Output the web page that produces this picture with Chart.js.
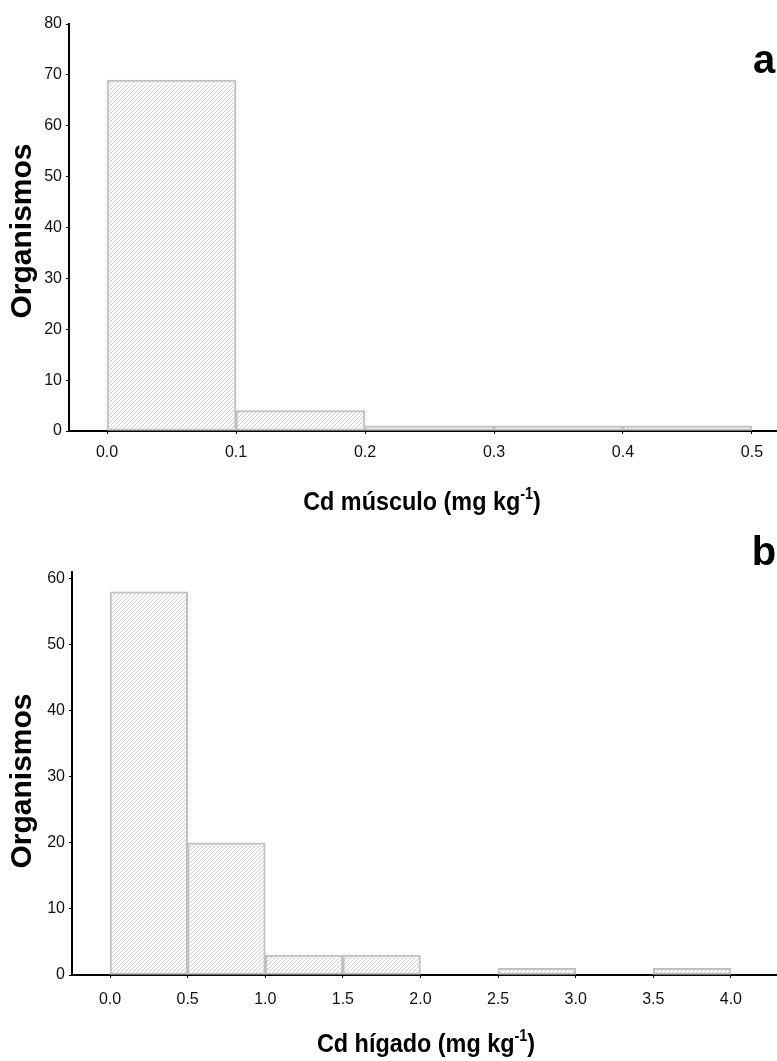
<!DOCTYPE html>
<html lang="es">
<head>
  <meta charset="UTF-8" />
  <title>Cd músculo / hígado</title>
  <script src="https://cdn.jsdelivr.net/npm/chart.js"></script>
  <style>
    html, body { margin: 0; padding: 0; background: #fff; }
    .panel { position: absolute; left: 0; width: 777px; }
    #panelA { top: 0; height: 525px; }
    #panelB { top: 525px; height: 536px; }
  </style>
</head>
<body>
  <div class="panel" id="panelA"><canvas id="chartA"></canvas></div>
  <div class="panel" id="panelB"><canvas id="chartB"></canvas></div>
  <script>
    // histogram bins (centres) and counts
    const musculoBins = [0.05, 0.15, 0.25, 0.35, 0.45];
    const musculoCounts = [69, 4, 1, 1, 1];
    const musculoTicks = [0.0, 0.1, 0.2, 0.3, 0.4, 0.5];
    const musculoYTicks = [0, 10, 20, 30, 40, 50, 60, 70, 80];

    const higadoBins = [0.25, 0.75, 1.25, 1.75, 2.25, 2.75, 3.25, 3.75];
    const higadoCounts = [58, 20, 3, 3, 0, 1, 0, 1];
    const higadoTicks = [0.0, 0.5, 1.0, 1.5, 2.0, 2.5, 3.0, 3.5, 4.0];
    const higadoYTicks = [0, 10, 20, 30, 40, 50, 60];

    const tickFont = { family: '"Liberation Sans", Arial, sans-serif', size: 16 };

    function hatchPattern() {
      const c = document.createElement('canvas');
      c.width = 4; c.height = 4;
      const g = c.getContext('2d');
      g.fillStyle = '#fff';
      g.fillRect(0, 0, 4, 4);
      g.strokeStyle = '#cfcfcf';
      g.lineWidth = 1;
      g.beginPath();
      g.moveTo(-1, 5); g.lineTo(5, -1);
      g.moveTo(-3, 3); g.lineTo(3, -3);
      g.moveTo(1, 7); g.lineTo(7, 1);
      g.stroke();
      return g.createPattern(c, 'repeat');
    }

    // axis titles + panel letter
    const panelText = {
      id: 'panelText',
      afterDraw(chart, args, o) {
        const ctx = chart.ctx;
        ctx.save();
        ctx.fillStyle = '#000';

        // y title
        ctx.save();
        ctx.translate(o.yTitleX, o.yTitleY);
        ctx.rotate(-Math.PI / 2);
        ctx.font = 'bold 30px "Liberation Sans", Arial, sans-serif';
        ctx.textAlign = 'center';
        ctx.textBaseline = 'alphabetic';
        ctx.fillText('Organismos', 0, 0);
        ctx.restore();

        // x title with superscript
        ctx.save();
        const mainFont = 'bold 26px "Liberation Sans", Arial, sans-serif';
        const supFont = 'bold 16px "Liberation Sans", Arial, sans-serif';
        ctx.font = mainFont;
        const w1 = ctx.measureText(o.xTitle).width;
        const w3 = ctx.measureText(')').width;
        ctx.font = supFont;
        const w2 = ctx.measureText('-1').width;
        const sx = 0.9;
        const total = (w1 + w2 + w3) * sx;
        ctx.translate(o.xTitleX - total / 2, o.xTitleY);
        ctx.scale(sx, 1);
        ctx.textBaseline = 'alphabetic';
        ctx.textAlign = 'left';
        ctx.font = mainFont;
        ctx.fillText(o.xTitle, 0, 0);
        ctx.font = supFont;
        ctx.fillText('-1', w1, -11);
        ctx.font = mainFont;
        ctx.fillText(')', w1 + w2, 0);
        ctx.restore();

        // panel letter
        ctx.font = 'bold 40px "Liberation Sans", Arial, sans-serif';
        ctx.textAlign = 'center';
        ctx.textBaseline = 'alphabetic';
        ctx.fillText(o.letter, o.letterX, o.letterY);
        ctx.restore();
      }
    };

    function makeChart(id, bins, counts, xTicks, yTicks, xr, yMax, dims, text) {
      const fill = hatchPattern();
      return new Chart(document.getElementById(id), {
        type: 'bar',
        data: {
          datasets: [{
            data: bins.map((b, i) => ({ x: b, y: counts[i] })),
            backgroundColor: fill,
            borderColor: '#c0c0c0',
            borderWidth: 2,
            borderSkipped: false,
            barPercentage: 1,
            categoryPercentage: 1
          }]
        },
        options: {
          responsive: true,
          maintainAspectRatio: false,
          animation: false,
          events: [],
          layout: { padding: { top: dims.top, right: 0, left: 0, bottom: 0 } },
          plugins: { legend: { display: false }, tooltip: { enabled: false }, panelText: text },
          scales: {
            x: {
              type: 'linear',
              min: xr[0], max: xr[1],
              offset: false,
              afterBuildTicks: s => { s.ticks = xTicks.map(v => ({ value: v })); },
              afterFit: s => { s.height = dims.xh; },
              border: { color: '#000', width: 2 },
              grid: { offset: false, drawOnChartArea: false, color: '#000', tickLength: 3, lineWidth: 1 },
              ticks: { color: '#111', font: tickFont, padding: dims.xpad, maxRotation: 0, callback: v => Number(v).toFixed(1) }
            },
            y: {
              min: 0, max: yMax,
              afterBuildTicks: s => { s.ticks = yTicks.map(v => ({ value: v })); },
              afterFit: s => { s.width = dims.yw; },
              border: { color: '#000', width: 2 },
              grid: { drawOnChartArea: false, color: '#000', tickLength: 3, lineWidth: 1 },
              ticks: { color: '#111', font: tickFont, padding: 4 }
            }
          }
        },
        plugins: [panelText]
      });
    }

    makeChart('chartA', musculoBins, musculoCounts, musculoTicks, musculoYTicks,
      [-0.0295, 0.5194], 80, { top: 24, xh: 94, yw: 69, xpad: 9 },
      { xTitle: 'Cd músculo (mg kg', xTitleX: 422, xTitleY: 510, yTitleX: 31, yTitleY: 231,
        letter: 'a', letterX: 764, letterY: 73 });

    makeChart('chartB', higadoBins, higadoCounts, higadoTicks, higadoYTicks,
      [-0.245, 4.297], 61, { top: 47, xh: 86, yw: 72, xpad: 12 },
      { xTitle: 'Cd hígado (mg kg', xTitleX: 426, xTitleY: 527, yTitleX: 31, yTitleY: 256,
        letter: 'b', letterX: 764, letterY: 40 });
  </script>
</body>
</html>
